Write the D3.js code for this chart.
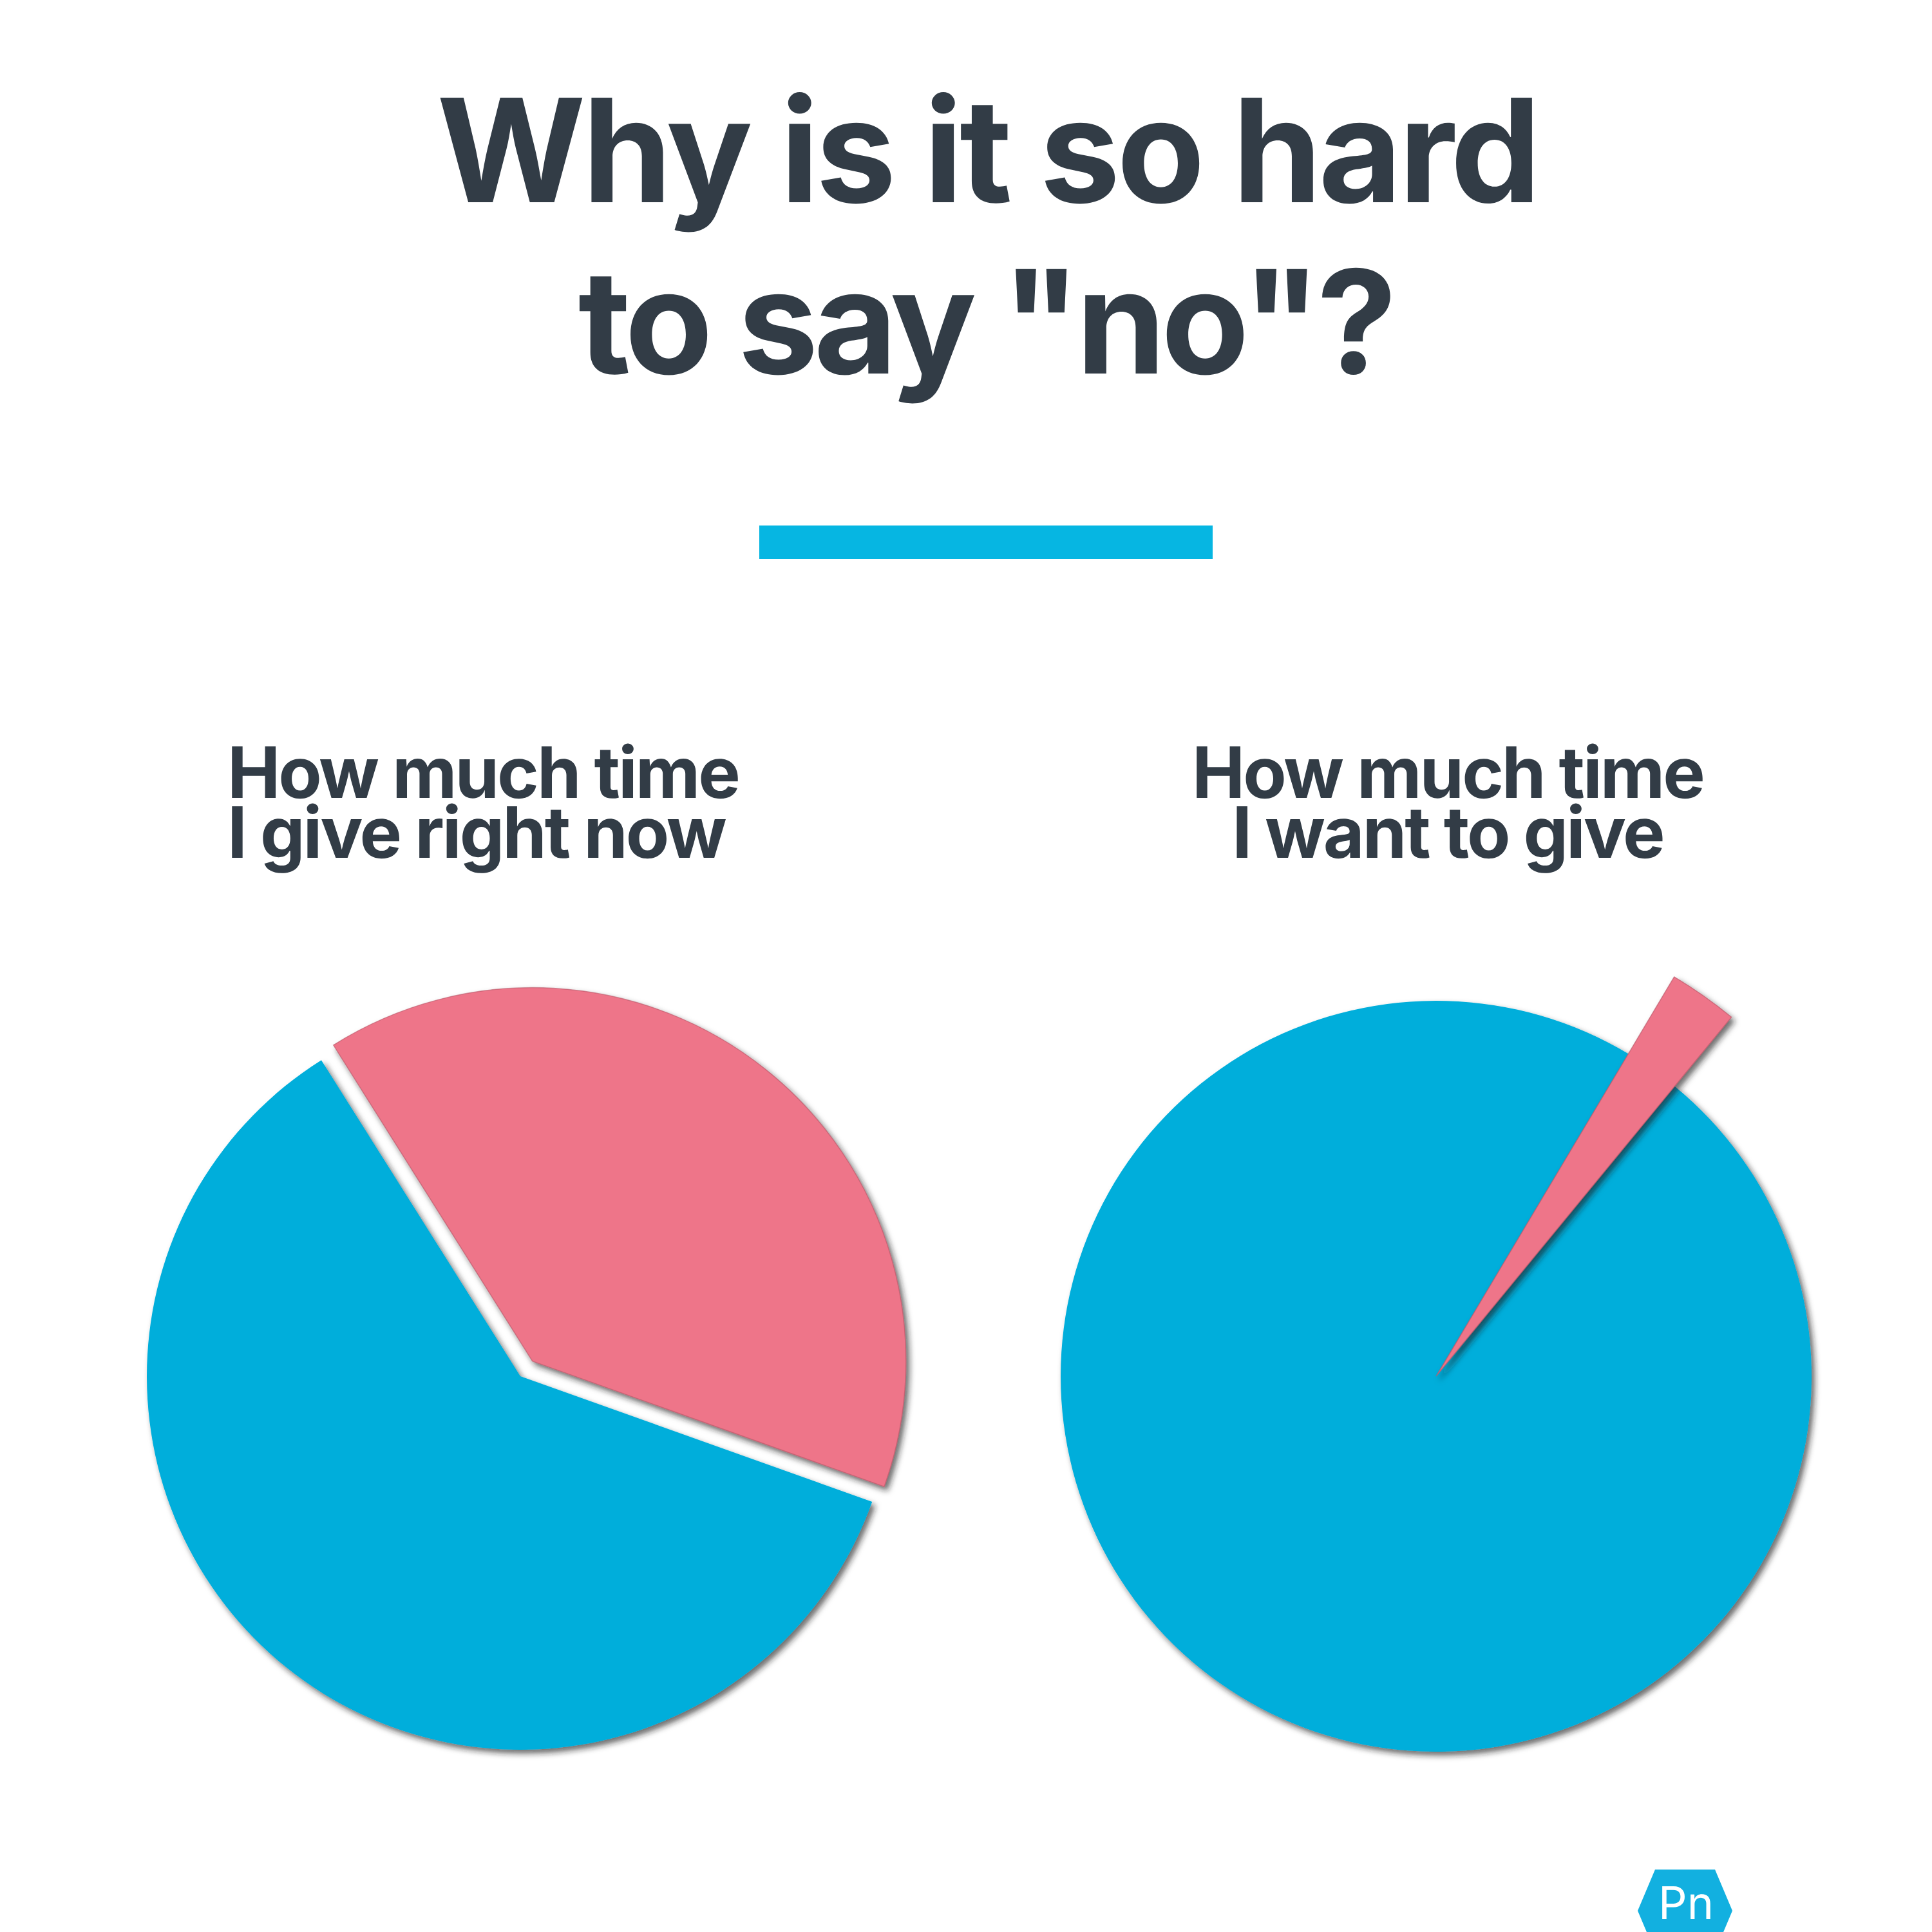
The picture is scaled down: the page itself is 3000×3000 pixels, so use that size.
<!DOCTYPE html>
<html>
<head>
<meta charset="utf-8">
<script src="https://cdn.jsdelivr.net/npm/d3@7"></script>
<style>
  html, body { margin: 0; padding: 0; background: #ffffff; }
  svg { display: block; }
  text { font-variant-ligatures: none; font-kerning: normal; text-rendering: geometricPrecision; }
</style>
</head>
<body>
<script>
// ---------- data ----------
const titleLines = ["Why is it so hard", "to say \"no\"?"];
const pieTitlesNow = ["How much time", "I give right now"];
const pieTitlesWant = ["How much time", "I want to give"];
const sliceNames = ["Time I give", "Rest of my time"];
const nowValues = [39.4, 60.6];
const wantValues = [2.4, 97.6];
const sliceColors = ["#ee7489", "#00aedb"];
const logoText = "Pn";

// ---------- layout ----------
const W = 3000, H = 3000;
const textColor = "#323c46";
const fontFam = "Inter, 'Open Sans', sans-serif";
const deg = Math.PI / 180;

const svg = d3.select("body").append("svg")
  .attr("width", W).attr("height", H)
  .attr("viewBox", `0 0 ${W} ${H}`);

svg.append("rect").attr("width", W).attr("height", H).attr("fill", "#ffffff");

const defs = svg.append("defs");
const f = defs.append("filter").attr("id", "shadow")
  .attr("x", "-20%").attr("y", "-20%").attr("width", "140%").attr("height", "140%");
f.append("feDropShadow")
  .attr("dx", 5).attr("dy", 6).attr("stdDeviation", 5)
  .attr("flood-color", "#1e1e1e").attr("flood-opacity", 0.65);

// fit text width helper
function fitWidth(textSel, target) {
  const len = textSel.node().getComputedTextLength();
  const fs = parseFloat(textSel.attr("font-size"));
  const nfs = fs * target / len;
  textSel.attr("font-size", nfs);
  return nfs;
}

// ---------- title ----------
const t1 = svg.append("text")
  .attr("x", 1533).attr("y", 314)
  .attr("text-anchor", "middle")
  .attr("font-family", fontFam)
  .attr("font-weight", 700)
  .attr("letter-spacing", -5)
  .attr("font-size", 200)
  .attr("fill", textColor)
  .text(titleLines[0]);
const titleSize = fitWidth(t1, 1700);
svg.append("text")
  .attr("x", 1530).attr("y", 580)
  .attr("text-anchor", "middle")
  .attr("font-family", fontFam)
  .attr("font-weight", 700)
  .attr("letter-spacing", -7)
  .attr("font-size", titleSize)
  .attr("fill", textColor)
  .text(titleLines[1]);

// ---------- accent bar ----------
svg.append("rect")
  .attr("x", 1179).attr("y", 816)
  .attr("width", 704).attr("height", 52)
  .attr("fill", "#06b6e2");

// ---------- pie subtitles (one text element, two lines) ----------
function subtitle(lines, x, anchor) {
  // measure first line to find the size
  const probe = svg.append("text")
    .attr("font-family", fontFam)
    .attr("font-weight", 700)
    .attr("letter-spacing", -3)
    .attr("font-size", 100)
    .text(lines[0]);
  const fs = fitWidth(probe, 790);
  probe.remove();
  const t = svg.append("text")
    .attr("text-anchor", anchor)
    .attr("font-family", fontFam)
    .attr("font-weight", 700)
    .attr("letter-spacing", -3)
    .attr("font-size", fs)
    .attr("fill", textColor);
  t.append("tspan").attr("x", x).attr("y", 1239).text(lines[0]);
  t.append("tspan").attr("x", x).attr("y", 1332).text(lines[1]);
}
subtitle(pieTitlesNow, 353, "start");
subtitle(pieTitlesWant, 2248, "middle");

// ---------- pies ----------
const color = d3.scaleOrdinal().domain(sliceNames).range(sliceColors);

function drawPie(values, opts) {
  const data = values.map((v, i) => ({ name: sliceNames[i], value: v }));
  const pie = d3.pie().sort(null).value(d => d.value)
    .startAngle(opts.start * deg).endAngle(opts.start * deg + 2 * Math.PI);
  const arcs = pie(data);
  const g = svg.append("g").attr("transform", `translate(${opts.cx},${opts.cy})`);
  const order = [1, 0];
  order.forEach(i => {
    const a = arcs[i];
    const outer = i === 0 ? opts.rHighlight : opts.r;
    const arcGen = d3.arc().innerRadius(0).outerRadius(outer);
    const mid = (a.startAngle + a.endAngle) / 2;
    const d = i === 0 ? opts.explode : 0;
    g.append("path")
      .attr("d", arcGen(a))
      .attr("transform", `translate(${Math.sin(mid) * d},${-Math.cos(mid) * d})`)
      .attr("fill", color(a.data.name))
      .attr("stroke", i === 0 ? "#b85566" : "none")
      .attr("stroke-width", i === 0 ? 1.5 : 0)
      .attr("stroke-opacity", 0.6)
      .attr("filter", "url(#shadow)");
  });
}

drawPie(nowValues, { cx: 808, cy: 2137, r: 580, rHighlight: 580, start: -32.2, explode: 30 });
drawPie(wantValues, { cx: 2230, cy: 2137, r: 583, rHighlight: 722, start: 30.8, explode: 0 });

// ---------- logo ----------
const hex = [[2570, 2903], [2663, 2903], [2690, 2967], [2663, 3031], [2570, 3031], [2543, 2967]];
svg.append("polygon")
  .attr("points", hex.map(p => p.join(",")).join(" "))
  .attr("fill", "#12b0e0");
svg.append("text")
  .attr("x", 2618).attr("y", 2980)
  .attr("text-anchor", "middle")
  .attr("font-family", fontFam)
  .attr("font-weight", 400)
  .attr("font-size", 70)
  .attr("fill", "#ffffff")
  .text(logoText);
</script>
</body>
</html>
